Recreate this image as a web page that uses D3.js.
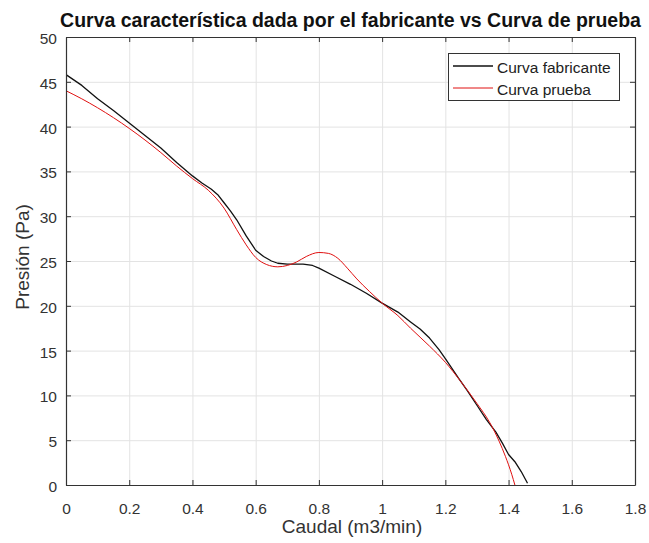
<!DOCTYPE html>
<html>
<head>
<meta charset="utf-8">
<script src="https://cdn.jsdelivr.net/npm/d3@7"></script>
<style>
  html, body { margin: 0; padding: 0; background: #fff; }
  svg { display: block; }
  text { font-family: "Liberation Sans", Arial, Helvetica, sans-serif; }
</style>
</head>
<body>
<svg id="chart" width="649" height="543"></svg>
<script>
// Manufacturer curve: flow (m3/min) and pressure (Pa)
const caudalFabricante = [0, 0.05, 0.1, 0.15, 0.2, 0.25, 0.3, 0.35, 0.4, 0.43, 0.46, 0.48, 0.5, 0.52, 0.54, 0.57, 0.6, 0.625, 0.65, 0.67, 0.7, 0.75, 0.78, 0.8, 0.85, 0.9, 0.95, 1.0, 1.05, 1.09, 1.12, 1.15, 1.18, 1.2, 1.24, 1.27, 1.3, 1.33, 1.36, 1.38, 1.4, 1.42, 1.44, 1.46];
const presionFabricante = [45.8, 44.6, 43.1, 41.8, 40.4, 39.0, 37.6, 36.0, 34.5, 33.7, 33.0, 32.4, 31.5, 30.6, 29.6, 27.8, 26.2, 25.5, 25.0, 24.75, 24.65, 24.65, 24.5, 24.2, 23.3, 22.4, 21.4, 20.3, 19.3, 18.2, 17.4, 16.4, 15.1, 14.1, 12.0, 10.5, 8.9, 7.3, 5.9, 4.7, 3.4, 2.6, 1.5, 0.2];

// Test curve: flow (m3/min) and pressure (Pa)
const caudalPrueba = [0, 0.05, 0.1, 0.15, 0.2, 0.25, 0.3, 0.35, 0.4, 0.45, 0.5, 0.54, 0.57, 0.6, 0.635, 0.67, 0.7, 0.73, 0.76, 0.8, 0.83, 0.86, 0.89, 0.92, 0.96, 1.0, 1.05, 1.09, 1.15, 1.2, 1.25, 1.3, 1.34, 1.37, 1.39, 1.41, 1.42];
const presionPrueba = [44.0, 43.1, 42.1, 41.0, 39.8, 38.5, 37.1, 35.6, 34.2, 32.9, 30.9, 28.5, 26.8, 25.4, 24.6, 24.35, 24.5, 24.9, 25.5, 25.95, 25.85, 25.3, 24.2, 23.0, 21.6, 20.3, 18.9, 17.5, 15.5, 13.7, 11.5, 9.1, 7.0, 4.9, 3.2, 1.2, 0];

// Axis ticks and text
const xTicks = [0, 0.2, 0.4, 0.6, 0.8, 1, 1.2, 1.4, 1.6, 1.8];
const yTicks = [0, 5, 10, 15, 20, 25, 30, 35, 40, 45, 50];
const titulo = "Curva característica dada por el fabricante vs Curva de prueba";
const etiquetaX = "Caudal (m3/min)";
const etiquetaY = "Presión (Pa)";
const series = [
  { nombre: "Curva fabricante", x: caudalFabricante, y: presionFabricante, color: "#111111", width: 1.3, curve: d3.curveLinear },
  { nombre: "Curva prueba", x: caudalPrueba, y: presionPrueba, color: "#e01010", width: 1.0, curve: d3.curveMonotoneX }
];

const svg = d3.select("#chart");
const plotLeft = 66, plotRight = 635, plotTop = 37, plotBottom = 485;
const axisColor = "#333333";

const x = d3.scaleLinear().domain([0, 1.8]).range([plotLeft, plotRight]);
const y = d3.scaleLinear().domain([0, 50]).range([plotBottom, plotTop]);

// grid
svg.append("g")
  .attr("transform", `translate(0,${plotBottom})`)
  .call(d3.axisBottom(x).tickValues(xTicks).tickSize(-(plotBottom - plotTop)).tickFormat(""))
  .call(g => g.select(".domain").remove())
  .call(g => g.selectAll("line").attr("stroke", "#e3e3e3").attr("stroke-width", 1));
svg.append("g")
  .attr("transform", `translate(${plotLeft},0)`)
  .call(d3.axisLeft(y).tickValues(yTicks).tickSize(-(plotRight - plotLeft)).tickFormat(""))
  .call(g => g.select(".domain").remove())
  .call(g => g.selectAll("line").attr("stroke", "#e3e3e3").attr("stroke-width", 1));

// curves
svg.append("clipPath").attr("id", "plotclip")
  .append("rect").attr("x", plotLeft).attr("y", plotTop)
  .attr("width", plotRight - plotLeft).attr("height", plotBottom - plotTop);

series.forEach(s => {
  const pts = s.x.map((v, i) => [v, s.y[i]]);
  svg.append("path")
    .datum(pts)
    .attr("clip-path", "url(#plotclip)")
    .attr("fill", "none")
    .attr("stroke", s.color)
    .attr("stroke-width", s.width)
    .attr("stroke-linejoin", "round")
    .attr("d", d3.line().x(d => x(d[0])).y(d => y(d[1])).curve(s.curve));
});

// axes with inward ticks on all four sides
const fmt = d => d3.format("~g")(d);
const styleAxis = g => {
  g.select(".domain").attr("stroke", axisColor).attr("stroke-width", 1.2);
  g.selectAll(".tick line").attr("stroke", axisColor);
  g.selectAll(".tick text").attr("fill", "#333333").style("font-size", "15.5px")
    .style("font-family", "'Liberation Sans', Arial, sans-serif");
};
svg.append("g")
  .attr("transform", `translate(0,${plotBottom})`)
  .call(d3.axisBottom(x).tickValues(xTicks).tickSizeInner(-5).tickSizeOuter(0).tickPadding(18).tickFormat(fmt))
  .call(styleAxis);
svg.append("g")
  .attr("transform", `translate(0,${plotTop})`)
  .call(d3.axisTop(x).tickValues(xTicks).tickSizeInner(-5).tickSizeOuter(0).tickFormat(""))
  .call(styleAxis);
svg.append("g")
  .attr("transform", `translate(${plotLeft},0)`)
  .call(d3.axisLeft(y).tickValues(yTicks).tickSizeInner(-5).tickSizeOuter(0).tickPadding(9).tickFormat(fmt))
  .call(styleAxis)
  .call(g => g.selectAll(".tick text").attr("dy", "0.42em"));
svg.append("g")
  .attr("transform", `translate(${plotRight},0)`)
  .call(d3.axisRight(y).tickValues(yTicks).tickSizeInner(-5).tickSizeOuter(0).tickFormat(""))
  .call(styleAxis);

// title and axis labels
svg.append("text")
  .attr("x", (plotLeft + plotRight) / 2).attr("y", 27)
  .attr("text-anchor", "middle")
  .attr("font-weight", "bold")
  .style("font-size", "19.5px")
  .attr("fill", "#111")
  .text(titulo);
svg.append("text")
  .attr("x", 352).attr("y", 533)
  .attr("text-anchor", "middle")
  .style("font-size", "19px")
  .attr("fill", "#333333")
  .text(etiquetaX);
svg.append("text")
  .attr("transform", `translate(29,257) rotate(-90)`)
  .attr("text-anchor", "middle")
  .style("font-size", "19px")
  .attr("fill", "#333333")
  .text(etiquetaY);

// legend
const legend = svg.append("g");
legend.append("rect")
  .attr("x", 448.5).attr("y", 53.5).attr("width", 171).attr("height", 47)
  .attr("fill", "#fff").attr("stroke", axisColor).attr("stroke-width", 1);
series.forEach((s, i) => {
  const ly = 66 + i * 22;
  legend.append("line")
    .attr("x1", 453).attr("x2", 493).attr("y1", ly).attr("y2", ly)
    .attr("stroke", s.color).attr("stroke-width", s.width);
  legend.append("text")
    .attr("x", 497).attr("y", ly + 6.5)
    .style("font-size", "15.5px")
    .attr("fill", "#222")
    .text(s.nombre);
});
</script>
</body>
</html>
